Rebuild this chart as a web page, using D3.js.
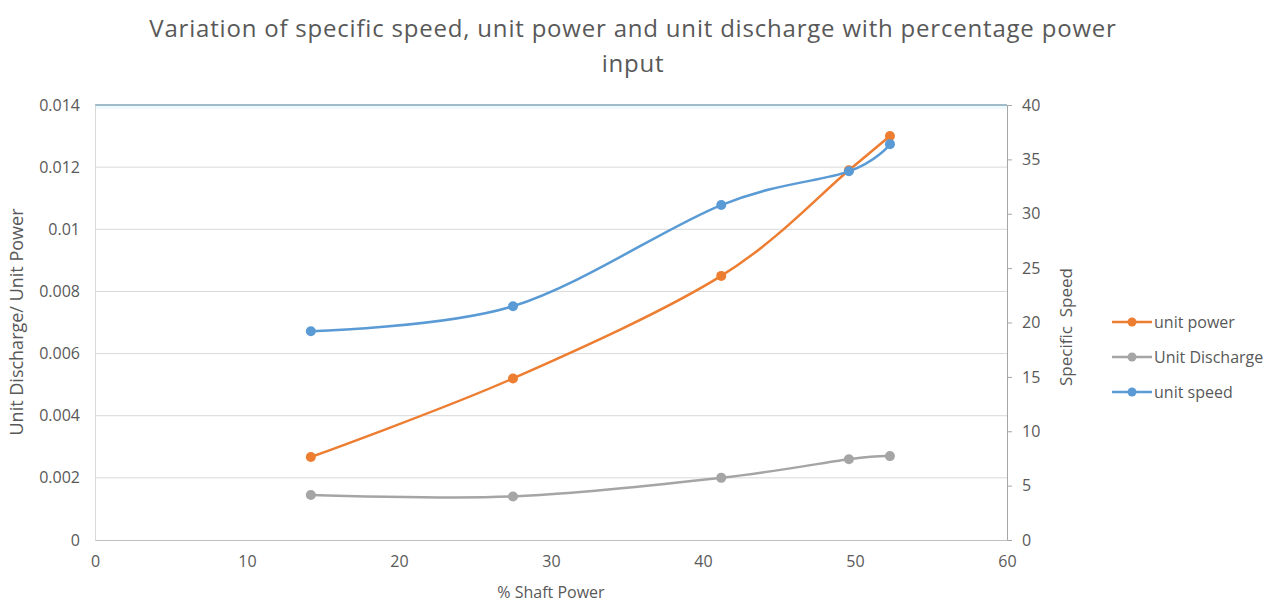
<!DOCTYPE html>
<html>
<head>
<meta charset="utf-8">
<script src="https://cdn.jsdelivr.net/npm/d3@7"></script>
<style>
    body { margin: 0; background: #fff; }
    text { font-family: "Open Sans", sans-serif; fill: #595959; }
</style>
</head>
<body>
<div id="body"></div>
<script>
// data
var shaftPower = [14.2, 27.5, 41.2, 49.6, 52.3];
var unitPower = [0.00267, 0.0052, 0.0085, 0.0119, 0.0130];
var unitDischarge = [0.00145, 0.0014, 0.0020, 0.0026, 0.0027];
var unitSpeed = [19.2, 21.5, 30.8, 33.9, 36.4];
var leftTicks = [0, 0.002, 0.004, 0.006, 0.008, 0.01, 0.012, 0.014];
var rightTicks = [0, 5, 10, 15, 20, 25, 30, 35, 40];
var xTicks = [0, 10, 20, 30, 40, 50, 60];

var width = 1281, height = 605;
var margins = {left: 95, right: 274, top: 105, bottom: 65};
var plotW = width - margins.left - margins.right;
var plotH = height - margins.top - margins.bottom;
var tickFont = '16px';

var svg = d3.select('#body').append('svg')
    .attr('width', width)
    .attr('height', height);

var x = d3.scaleLinear().domain([0, 60]).range([0, plotW]);
var yLeft = d3.scaleLinear().domain([0, 0.014]).range([plotH, 0]);
var yRight = d3.scaleLinear().domain([0, 40]).range([plotH, 0]);

// title
var title = svg.append('text')
    .attr('x', 633)
    .attr('text-anchor', 'middle')
    .style('font-size', '24px')
    .style('letter-spacing', '0.8px');
title.append('tspan').attr('x', 633).attr('y', 37).text('Variation of specific speed, unit power and unit discharge with percentage power');
title.append('tspan').attr('x', 633).attr('y', 72).text('input');

var g = svg.append('g')
    .attr('transform', `translate(${margins.left},${margins.top})`);

// gridlines
g.append('g')
    .selectAll('line')
    .data(leftTicks.slice(1, -1))
    .enter()
    .append('line')
    .attr('x1', 0).attr('x2', plotW)
    .attr('y1', d => yLeft(d)).attr('y2', d => yLeft(d))
    .attr('stroke', '#d9d9d9')
    .attr('stroke-width', 1);

g.append('rect')
    .attr('x', 0).attr('y', 0)
    .attr('width', plotW).attr('height', 4)
    .attr('fill', '#eef9fc');
g.append('line')
    .attr('x1', 0).attr('x2', plotW)
    .attr('y1', yLeft(0.014)).attr('y2', yLeft(0.014))
    .attr('stroke', '#86a5ba')
    .attr('stroke-width', 1.5);

// left axis
var leftAxis = g.append('g')
    .call(d3.axisLeft(yLeft).tickValues(leftTicks).tickSize(0).tickPadding(15).tickFormat(d => d3.format('')(+d.toFixed(3))));
leftAxis.select('.domain').attr('stroke', '#d9d9d9');
leftAxis.selectAll('text').style('font-size', tickFont).style('font-family', '"Open Sans", sans-serif').attr('fill', '#595959');

// right axis
var rightAxis = g.append('g')
    .attr('transform', `translate(${plotW},0)`)
    .call(d3.axisRight(yRight).tickValues(rightTicks).tickSize(5).tickSizeOuter(0).tickPadding(10));
rightAxis.select('.domain').attr('stroke', '#a6a6a6');
rightAxis.selectAll('line').attr('stroke', '#a6a6a6');
rightAxis.selectAll('text').style('font-size', tickFont).style('font-family', '"Open Sans", sans-serif').attr('fill', '#595959');

// bottom axis
var bottomAxis = g.append('g')
    .attr('transform', `translate(0,${plotH})`)
    .call(d3.axisBottom(x).tickValues(xTicks).tickSize(0).tickPadding(16));
bottomAxis.select('.domain').attr('stroke', '#bfbfbf');
bottomAxis.selectAll('text').style('font-size', tickFont).style('font-family', '"Open Sans", sans-serif').attr('fill', '#595959');

// axis titles
svg.append('text')
    .attr('transform', 'translate(23,322) rotate(-90)')
    .attr('text-anchor', 'middle')
    .style('font-size', '18px')
    .text('Unit Discharge/ Unit Power');
svg.append('text')
    .attr('transform', 'translate(1072,327) rotate(-90)')
    .attr('text-anchor', 'middle')
    .style('font-size', '17px')
    .attr('xml:space', 'preserve')
    .text('Specific  Speed');
svg.append('text')
    .attr('x', margins.left + x(30))
    .attr('y', 598)
    .attr('text-anchor', 'middle')
    .style('font-size', '16px')
    .text('% Shaft Power');

// series
var series = [
    {name: 'unit power', values: unitPower, scale: yLeft, color: '#ed7d31'},
    {name: 'Unit Discharge', values: unitDischarge, scale: yLeft, color: '#a5a5a5'},
    {name: 'unit speed', values: unitSpeed, scale: yRight, color: '#5b9bd5'}
];

var drawOrder = [series[1], series[0], series[2]];
drawOrder.forEach(s => {
    var pts = shaftPower.map((p, i) => [p, s.values[i]]);
    var line = d3.line()
        .x(d => x(d[0]))
        .y(d => s.scale(d[1]))
        .curve(d3.curveCardinal.tension(0));
    g.append('path')
        .datum(pts)
        .attr('d', line)
        .attr('fill', 'none')
        .attr('stroke', s.color)
        .attr('stroke-width', 2.5)
        .attr('stroke-linejoin', 'round');
    g.selectAll(null)
        .data(pts)
        .enter()
        .append('circle')
        .attr('cx', d => x(d[0]))
        .attr('cy', d => s.scale(d[1]))
        .attr('r', 5)
        .attr('fill', s.color);
});

// legend
var legend = svg.append('g').attr('transform', 'translate(1112,322)');
series.forEach((s, i) => {
    var row = legend.append('g').attr('transform', `translate(0,${i * 35})`);
    row.append('line')
        .attr('x1', 0).attr('x2', 40)
        .attr('y1', 0).attr('y2', 0)
        .attr('stroke', s.color)
        .attr('stroke-width', 2.5);
    row.append('circle')
        .attr('cx', 20).attr('cy', 0).attr('r', 4.5)
        .attr('fill', s.color);
    row.append('text')
        .attr('x', 42).attr('y', 6)
        .style('font-size', '16px')
        .text(s.name);
});
</script>
</body>
</html>
